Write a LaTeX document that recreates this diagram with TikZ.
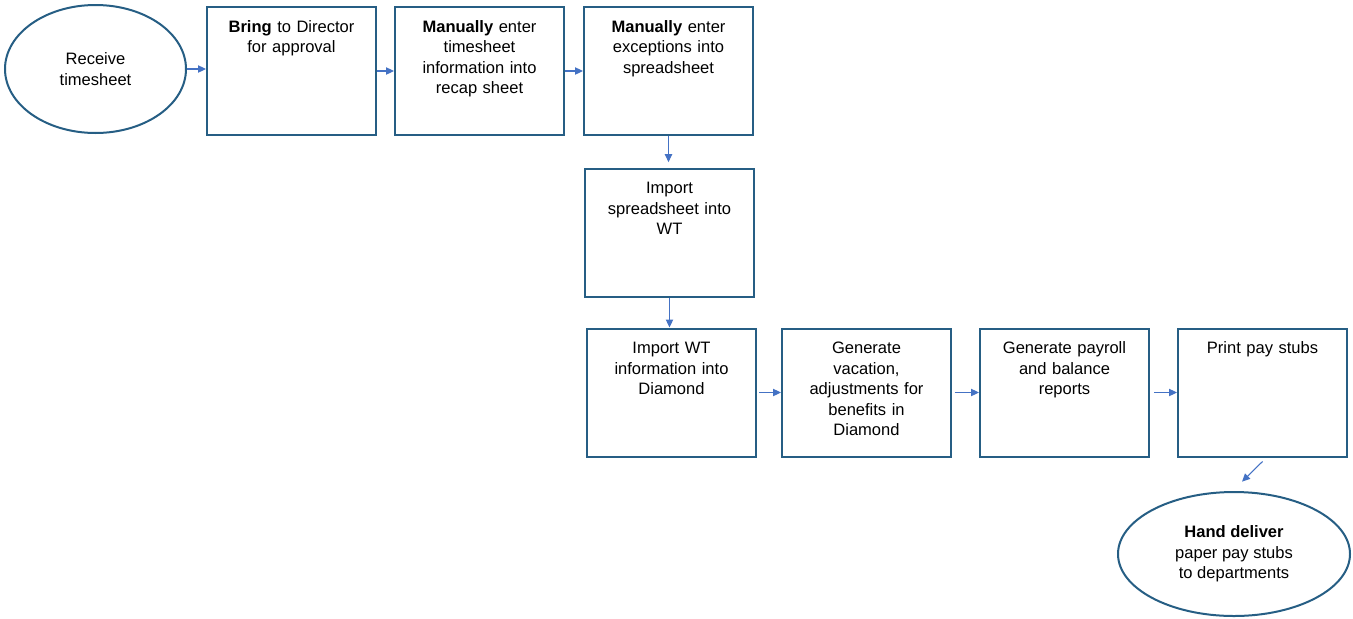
\documentclass[tikz,border=0pt]{standalone}
\usepackage{fontspec}
\setmainfont{Liberation Sans}
\usetikzlibrary{shapes.geometric,arrows.meta}
\definecolor{frame}{RGB}{38,94,132}
\definecolor{flow}{RGB}{68,114,196}
\tikzset{
  stepbox/.style={draw=frame, line width=1.5pt, fill=white, inner sep=0pt,
    minimum width=126.75pt, text width=115pt, align=center,
    text height=18.75pt, text depth=77.25pt},
  terminal/.style={ellipse, draw=frame, line width=1.5pt, fill=white,
    inner sep=0pt, align=center},
  arr/.style={draw=flow, line width=0.8pt,
    -{Triangle[length=6pt,width=5.5pt]}}
}
\begin{document}
\begin{tikzpicture}[x=0.75pt, y=-0.75pt, font=\fontsize{12.4pt}{15.4pt}\selectfont]
\useasboundingbox (0,0) rectangle (1353,618);

% top row
\node[terminal, minimum width=135.75pt, minimum height=96pt] (recv) at (95.5,69)
  {Receive\\timesheet};
\node[stepbox] (bring) at (291.5,71) {\textbf{Bring} to Director\\for approval};
\node[stepbox] (recap) at (479.5,71) {\textbf{Manually} enter\\timesheet\\information into\\recap sheet};
\node[stepbox] (excep) at (668.5,71) {\textbf{Manually} enter\\exceptions into\\spreadsheet};

% middle
\node[stepbox] (impwt) at (669.5,232.5) {Import\\spreadsheet into\\WT};

% bottom row
\node[stepbox] (impdia) at (671.5,392.5) {Import WT\\information into\\Diamond};
\node[stepbox] (vac) at (866.5,392.5) {Generate\\vacation,\\adjustments for\\benefits in\\Diamond};
\node[stepbox] (rep) at (1064.5,392.5) {Generate payroll\\and balance\\reports};
\node[stepbox] (print) at (1262.5,392.5) {Print pay stubs};

\node[terminal, minimum width=174pt, minimum height=93pt] (hand) at (1234,554)
  {\textbf{Hand deliver}\\paper pay stubs\\to departments};

% connectors
\draw[arr] (recv.east) -- (recv.east -| bring.west);
\draw[arr] (bring.east) -- (recap.west);
\draw[arr] (recap.east) -- (excep.west);
\draw[arr, shorten >=4pt] (excep.south) -- (excep.south |- impwt.north);
\draw[arr] (impwt.south) -- (impwt.south |- impdia.north);
\draw[arr] ([xshift=1.5pt]impdia.east) -- (vac.west);
\draw[arr] ([xshift=2pt]vac.east) -- (rep.west);
\draw[arr] ([xshift=3pt]rep.east) -- (print.west);
\draw[arr] ([yshift=-3pt]print.south) -- ([xshift=6pt,yshift=7pt]hand.north);
\end{tikzpicture}
\end{document}
